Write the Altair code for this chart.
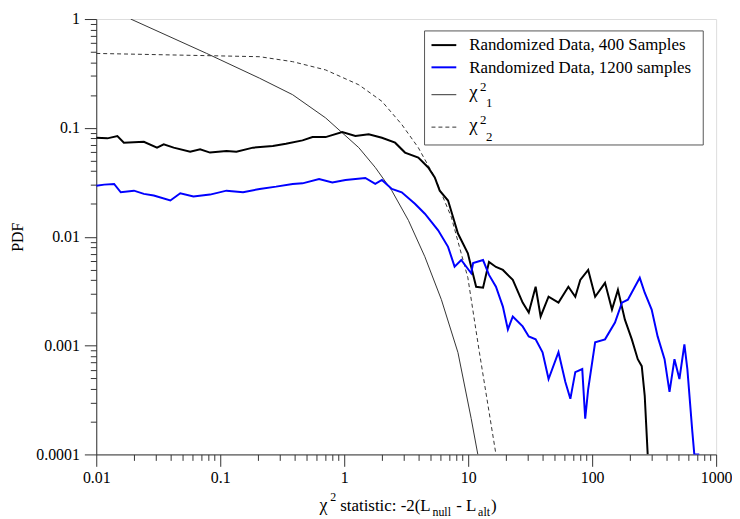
import altair as alt
import pandas as pd

FONT = "Times New Roman, Liberation Serif, serif"

# ---- data ----
black_x = [0.01, 0.0123, 0.0148, 0.0167, 0.0242, 0.0309, 0.035, 0.0421, 0.0572, 0.0688,
           0.0827, 0.1123, 0.135, 0.1837, 0.2655, 0.339, 0.461, 0.555, 0.708, 0.964,
           1.231, 1.576, 2.014, 2.573, 3.093, 3.959, 4.76, 5.375, 5.894, 6.88,
           7.545, 8.27, 9.94, 10.57, 11.59, 13.18, 14.72, 16.75, 19.05, 22.9,
           27.5, 30.8, 35.0, 38.4, 44.5, 53.5, 64.3, 73.1, 80.2, 92.9,
           105.7, 127, 144.5, 161.4, 183.7, 208.9, 233.3, 251.2, 265.5, 280.5]
black_y = [0.0811, 0.0801, 0.0841, 0.0731, 0.0746, 0.0658, 0.0707, 0.0658, 0.0605, 0.0636,
           0.0593, 0.0614, 0.0605, 0.0658, 0.0682, 0.0716, 0.0768, 0.0823, 0.0823, 0.0915,
           0.0841, 0.0872, 0.0811, 0.0731, 0.0593, 0.0534, 0.0433, 0.0351, 0.0265, 0.0215,
           0.01515, 0.0107, 0.00703, 0.00531, 0.00347, 0.0034, 0.00586, 0.00527, 0.00495, 0.00401,
           0.00248, 0.00201, 0.00347, 0.00185, 0.00281, 0.00248, 0.00347, 0.00281, 0.00401, 0.00495,
           0.00281, 0.00377, 0.00214, 0.00325, 0.00173, 0.00114, 0.00075, 0.000647, 0.000345, 0.0001]

blue_x = [0.01, 0.01159, 0.01393, 0.01576, 0.02014, 0.0242, 0.0291, 0.0396, 0.0476, 0.0608,
          0.0827, 0.1123, 0.1528, 0.2078, 0.2821, 0.3837, 0.461, 0.627, 0.802, 1.024,
          1.48, 1.78, 2.014, 2.421, 2.911, 3.719, 4.472, 5.723, 6.88, 7.77,
          8.79, 10.57, 10.96, 13.18, 14.72, 16.75, 19.05, 20.9, 22.9, 27.5,
          30.8, 35.0, 39.8, 44.5, 53.5, 60.8, 66.7, 73.1, 83.2, 87.9,
          92.9, 105.7, 127, 152.8, 173.8, 194.1, 242.1, 265.5, 302, 337.3,
          383.7, 420.7, 461.3, 505.8, 554.6, 586.1, 642.7, 666.8, 731.1]
blue_y = [0.02945, 0.0301, 0.03053, 0.0256, 0.0265, 0.02474, 0.02388, 0.0215, 0.02506, 0.02339,
          0.02438, 0.0265, 0.0256, 0.02749, 0.02885, 0.03053, 0.03092, 0.03392, 0.03157, 0.03321,
          0.03463, 0.03053, 0.03321, 0.02749, 0.0256, 0.02007, 0.01627, 0.01146, 0.00807, 0.00531,
          0.00611, 0.00462, 0.00573, 0.00611, 0.00446, 0.00347, 0.00228, 0.001406, 0.00185, 0.0015,
          0.001214, 0.00114, 0.000868, 0.000493, 0.000868, 0.000463, 0.000324, 0.00057, 0.000608, 0.000213,
          0.000399, 0.00107, 0.00114, 0.00163, 0.00248, 0.00264, 0.00419, 0.00306, 0.00214, 0.001214,
          0.00075, 0.000375, 0.00075, 0.000493, 0.001027, 0.000608, 0.000162, 0.0001, 0.0001]

chi1_x = [0.01895, 0.0777, 0.2078, 0.3837, 0.708, 0.964, 1.311, 1.78, 2.421, 3.294,
          4.472, 6.081, 8.27, 10.57, 11.96]
chi1_y = [1.0, 0.483, 0.2858, 0.2017, 0.1235, 0.0901, 0.0658, 0.0433, 0.0265, 0.01414,
          0.00655, 0.00264, 0.000862, 0.000214, 0.0001]

chi2_x = [0.01, 0.2078, 0.3837, 0.708, 1.311, 2.014, 2.911, 3.959, 5.375, 7.31,
          9.94, 12.31, 16.75]
chi2_y = [0.483, 0.4506, 0.4058, 0.3408, 0.2488, 0.1753, 0.1075, 0.0658, 0.0351, 0.01515,
          0.0042, 0.000868, 0.0001]

x_decades = [0.01, 0.1, 1, 10, 100, 1000]
y_decades = [0.0001, 0.001, 0.01, 0.1, 1]
x_ticks = [d * m for d in x_decades[:-1] for m in range(1, 10)] + [x_decades[-1]]
y_ticks = [d * m for d in y_decades[:-1] for m in range(1, 10)] + [y_decades[-1]]

legend_labels = ["Randomized Data, 400 Samples", "Randomized Data, 1200 samples"]

W, H = 625, 439

IS_DEC = "abs(log(datum.value)/LN10 - round(log(datum.value)/LN10)) < 0.001"

def axis_common(values):
    return dict(
        values=values, grid=False, labelFont=FONT, labelFontSize=16, labelColor="black",
        domainColor="#333", tickColor="#333", labelOverlap=False, labelFlush=False,
        labelBound=False, title=None,
        tickSize={"condition": {"test": IS_DEC, "value": 12}, "value": 6},
        labelExpr=IS_DEC + " ? toString(datum.value) : ''",
    )

x_enc = alt.X("x:Q", scale=alt.Scale(type="log", domain=[0.01, 1000], nice=False),
              axis=alt.Axis(labelPadding=3, **axis_common(x_ticks)))
y_ax = axis_common(y_ticks)
y_ax.pop("title")
y_enc = alt.Y("y:Q", scale=alt.Scale(type="log", domain=[0.0001, 1], nice=False),
              axis=alt.Axis(labelPadding=5, title="PDF", titleFont=FONT, titleFontSize=16,
                            titleFontWeight="normal", titleColor="black", titlePadding=10, **y_ax))


def series(xs, ys, color, width, dash=None):
    df = pd.DataFrame({"x": xs, "y": ys, "i": list(range(len(xs)))})
    kw = dict(color=color, strokeWidth=width, clip=True)
    if dash:
        kw["strokeDash"] = dash
    return alt.Chart(df).mark_line(**kw).encode(x=x_enc, y=y_enc, order="i:Q")


def txt(s, x, y, size=17, align="left", baseline="alphabetic"):
    return alt.Chart(alt.Data(values=[{}])).mark_text(
        text=s, font=FONT, fontSize=size, align=align, baseline=baseline, color="black"
    ).encode(x=alt.value(x), y=alt.value(y))


def rule(x1, x2, y, color, width, dash=None):
    kw = dict(color=color, strokeWidth=width)
    if dash:
        kw["strokeDash"] = dash
    return alt.Chart(alt.Data(values=[{}])).mark_rule(**kw).encode(
        x=alt.value(x1), x2=alt.value(x2), y=alt.value(y))


layers = [
    series(chi2_x, chi2_y, "#333", 1, [4, 3]),
    series(chi1_x, chi1_y, "#333", 1),
    series(black_x, black_y, "black", 2),
    series(blue_x, blue_y, "#0000ff", 2),
]

# legend box
box = alt.Chart(alt.Data(values=[{}])).mark_rect(fill="white", stroke="#555", strokeWidth=1).encode(
    x=alt.value(331), x2=alt.value(612), y=alt.value(12), y2=alt.value(127))
layers += [
    box,
    rule(338, 363, 26.3, "black", 2), txt(legend_labels[0], 376, 31.3),
    rule(338, 363, 48.7, "#0000ff", 2), txt(legend_labels[1], 376, 54),
    rule(338, 363, 76.3, "#333", 1), txt("χ", 376, 80, 19), txt("2", 387, 73, 13), txt("1", 393, 89, 13),
    rule(338, 363, 109, "#333", 1, [4, 3]), txt("χ", 376, 113, 19), txt("2", 387, 106, 13), txt("2", 393, 123, 13),
]

# x axis title pieces
layers += [
    txt("χ", 225, 496, 18),
    txt("2", 236, 486, 12),
    txt("statistic:  -2(L", 246, 496, 17),
    txt("null", 339, 501, 12),
    txt("- L", 363, 496, 17),
    txt("alt", 385, 501, 12),
    txt(")", 398, 496, 17),
]

chart = alt.layer(*layers).properties(
    width=W, height=H,
    padding={"left": 89, "top": 9, "right": 16, "bottom": 62},
    autosize=alt.AutoSizeParams(type="none"),
).configure_view(stroke="#333", strokeWidth=1).configure(background="white")

chart.save("out.html", embed_options={"renderer": "svg", "actions": False})
